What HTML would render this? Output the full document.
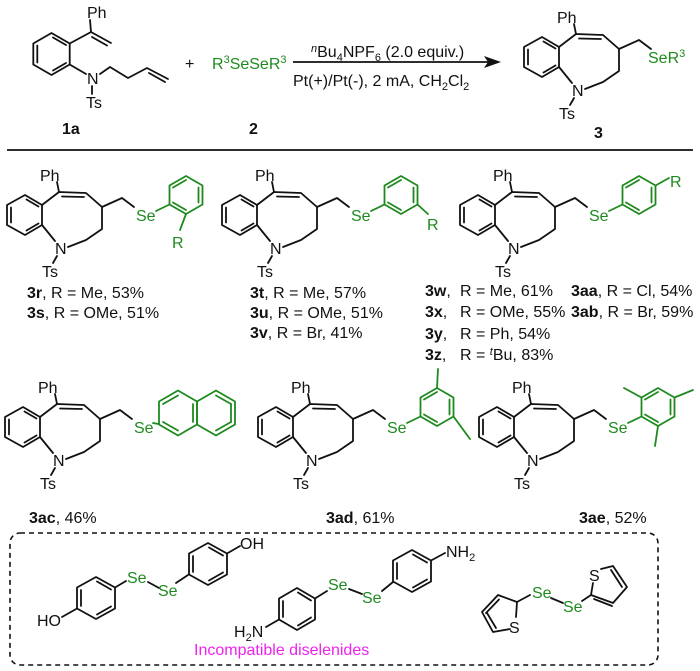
<!DOCTYPE html>
<html><head><meta charset="utf-8">
<style>
html,body{margin:0;padding:0;background:#fff;}
svg{display:block;font-family:"Liberation Sans",Arial,sans-serif;}
.b{stroke:#111;stroke-width:1.8;fill:none;stroke-linecap:round;stroke-linejoin:round;}
.g{stroke:#1e8a1e;stroke-width:1.8;fill:none;stroke-linecap:round;stroke-linejoin:round;}
text{font-size:16px;fill:#111;}
.gt{fill:#1e8a1e;}
.bd{font-weight:bold;}
</style></head>
<body>
<svg width="700" height="671" viewBox="0 0 700 671" xmlns="http://www.w3.org/2000/svg">
<defs>
<g id="sc">
  <polygon class="b" points="7,205 25,195 42,205 42,225 25,235 7,225"/>
  <line class="b" x1="11" y1="207.5" x2="11" y2="222.5"/>
  <line class="b" x1="26.5" y1="199.5" x2="38.5" y2="206.5"/>
  <line class="b" x1="26.5" y1="230.5" x2="38.5" y2="223.5"/>
  <polyline class="b" points="42,205 59,192 86,193 102,207 102,229 86,240 68,247"/>
  <line class="b" x1="62" y1="196.5" x2="84" y2="197"/>
  <line class="b" x1="59" y1="192" x2="57" y2="182"/>
  <line class="b" x1="42" y1="225" x2="55" y2="241"/>
  <line class="b" x1="57" y1="256" x2="53" y2="263"/>
  <polyline class="b" points="102,207 122,198 134,207"/>
</g>
<g id="ar">
  <polygon class="g" points="186,176 202.5,185.5 202.5,204.5 186,214 169.5,204.5 169.5,185.5"/>
  <line class="g" x1="173" y1="187.5" x2="186" y2="180"/>
  <line class="g" x1="198.5" y1="187.5" x2="198.5" y2="202.5"/>
  <line class="g" x1="173" y1="202.5" x2="186" y2="210"/>
  <line class="g" x1="156" y1="211" x2="169.5" y2="204.5"/>
</g>
</defs>

<!-- Top scheme: 1a -->
<polygon class="b" points="51.5,33 69.7,43.5 69.7,64.5 51.5,75 33.3,64.5 33.3,43.5"/>
<line class="b" x1="37.3" y1="45.5" x2="37.3" y2="62.5"/>
<line class="b" x1="53" y1="37.5" x2="66" y2="45"/>
<line class="b" x1="53" y1="70.5" x2="66" y2="63"/>
<line class="b" x1="69.7" y1="43.5" x2="91" y2="32"/>
<line class="b" x1="91" y1="32" x2="90" y2="20"/>
<line class="b" x1="91" y1="32" x2="111" y2="43"/>
<line class="b" x1="92" y1="37" x2="107" y2="45.5"/>
<line class="b" x1="69.7" y1="64.5" x2="86" y2="74"/>
<polyline class="b" points="100,74 110,67 128,78 147,68 168,79"/>
<line class="b" x1="149" y1="73" x2="165" y2="82"/>
<line class="b" x1="92" y1="86" x2="92" y2="94"/>
<text x="87" y="18">Ph</text>
<text x="87" y="84">N</text>
<text x="86" y="108">Ts</text>
<text x="62" y="134" class="bd">1a</text>
<text x="185" y="69">+</text>
<text x="212" y="69" class="gt">R<tspan font-size="11" dy="-6">3</tspan><tspan dy="6">SeSeR</tspan><tspan font-size="11" dy="-6">3</tspan></text>
<text x="249" y="134" class="bd">2</text>
<line x1="293" y1="62" x2="490" y2="62" stroke="#111" stroke-width="1.8"/>
<polygon points="501,62 484,56 488,62 484,68" fill="#111"/>
<text x="311" y="57"><tspan font-size="11" font-style="italic" dy="-5">n</tspan><tspan dy="5">Bu</tspan><tspan font-size="11" dy="4">4</tspan><tspan dy="-4">NPF</tspan><tspan font-size="11" dy="4">6</tspan><tspan dy="-4"> (2.0 equiv.)</tspan></text>
<text x="293" y="86">Pt(+)/Pt(-), 2 mA, CH<tspan font-size="11" dy="4">2</tspan><tspan dy="-4">Cl</tspan><tspan font-size="11" dy="4">2</tspan></text>

<!-- product 3 -->
<g transform="translate(517,-158)">
  <use href="#sc"/>
  <text x="40" y="181">Ph</text>
  <text x="55" y="254">N</text>
  <text x="42" y="277">Ts</text>
  <text x="131" y="221" class="gt">SeR<tspan font-size="11" dy="-6">3</tspan></text>
</g>
<text x="594" y="138" class="bd">3</text>
<line x1="7" y1="150" x2="693" y2="150" stroke="#111" stroke-width="1.8"/>

<!-- 3r -->
<g>
  <use href="#sc"/><use href="#ar"/>
  <line class="g" x1="186" y1="214" x2="180" y2="230"/>
  <text x="40" y="181">Ph</text><text x="55" y="254">N</text><text x="42" y="277">Ts</text>
  <text x="136" y="221" class="gt">Se</text>
  <text x="172" y="248" class="gt">R</text>
</g>
<!-- 3t -->
<g transform="translate(215,0)">
  <use href="#sc"/><use href="#ar"/>
  <line class="g" x1="202.5" y1="204.5" x2="213" y2="214"/>
  <text x="40" y="181">Ph</text><text x="55" y="254">N</text><text x="42" y="277">Ts</text>
  <text x="136" y="221" class="gt">Se</text>
  <text x="212" y="230" class="gt">R</text>
</g>
<!-- 3w -->
<g transform="translate(453,0)">
  <use href="#sc"/><use href="#ar"/>
  <line class="g" x1="202.5" y1="185.5" x2="216" y2="178"/>
  <text x="40" y="181">Ph</text><text x="55" y="254">N</text><text x="42" y="277">Ts</text>
  <text x="136" y="221" class="gt">Se</text>
  <text x="217" y="187" class="gt">R</text>
</g>

<text x="27" y="298"><tspan class="bd">3r</tspan>,  R = Me, 53%</text>
<text x="27" y="318"><tspan class="bd">3s</tspan>, R = OMe, 51%</text>
<text x="250" y="298"><tspan class="bd">3t</tspan>,  R = Me, 57%</text>
<text x="250" y="318"><tspan class="bd">3u</tspan>, R = OMe, 51%</text>
<text x="250" y="338"><tspan class="bd">3v</tspan>, R = Br,  41%</text>
<text x="425" y="296" class="bd">3w<tspan font-weight="normal">,</tspan></text>
<text x="425" y="317" class="bd">3x<tspan font-weight="normal">,</tspan></text>
<text x="425" y="339" class="bd">3y<tspan font-weight="normal">,</tspan></text>
<text x="425" y="360" class="bd">3z<tspan font-weight="normal">,</tspan></text>
<text x="460" y="296">R = Me, 61%</text>
<text x="460" y="317">R = OMe, 55%</text>
<text x="460" y="339">R = Ph, 54%</text>
<text x="460" y="360">R = <tspan font-size="11" font-style="italic" dy="-5">t</tspan><tspan dy="5">Bu, 83%</tspan></text>
<text x="571" y="296"><tspan class="bd">3aa</tspan>, R = Cl, 54%</text>
<text x="571" y="317"><tspan class="bd">3ab</tspan>, R = Br, 59%</text>

<!-- 3ac -->
<g transform="translate(-2,212)">
  <use href="#sc"/>
  <line class="g" x1="155" y1="211" x2="160.5" y2="212"/>
  <text x="40" y="181">Ph</text><text x="55" y="254">N</text><text x="42" y="277">Ts</text>
  <text x="136" y="221" class="gt">Se</text>
</g>
<g>
  <polygon class="g" points="178,390.5 197,401.5 197,424.5 178,435.5 159,424.5 159,401.5"/>
  <polygon class="g" points="216,390.5 235,401.5 235,424.5 216,435.5 197,424.5 197,401.5"/>
  <line class="g" x1="163" y1="404" x2="178" y2="395.5"/>
  <line class="g" x1="163" y1="422" x2="178" y2="430.5"/>
  <line class="g" x1="193" y1="404" x2="193" y2="422"/>
  <line class="g" x1="216" y1="395.5" x2="231" y2="404"/>
  <line class="g" x1="216" y1="430.5" x2="231" y2="422"/>
  <line class="g" x1="231" y1="404" x2="231" y2="422"/>
</g>
<!-- 3ad -->
<g transform="translate(251,212)">
  <use href="#sc"/><use href="#ar"/>
  <line class="g" x1="186" y1="176" x2="187" y2="157"/>
  <line class="g" x1="202.5" y1="204.5" x2="219" y2="227"/>
  <text x="40" y="181">Ph</text><text x="55" y="254">N</text><text x="42" y="277">Ts</text>
  <text x="136" y="221" class="gt">Se</text>
</g>
<!-- 3ae -->
<g transform="translate(472,212)">
  <use href="#sc"/><use href="#ar"/>
  <line class="g" x1="169.5" y1="185.5" x2="152" y2="176"/>
  <line class="g" x1="202.5" y1="185.5" x2="221" y2="178"/>
  <line class="g" x1="186" y1="214" x2="183" y2="234"/>
  <text x="40" y="181">Ph</text><text x="55" y="254">N</text><text x="42" y="277">Ts</text>
  <text x="136" y="221" class="gt">Se</text>
</g>
<text x="29" y="523"><tspan class="bd">3ac</tspan>, 46%</text>
<text x="326" y="523"><tspan class="bd">3ad</tspan>, 61%</text>
<text x="579" y="523"><tspan class="bd">3ae</tspan>, 52%</text>

<!-- dashed box -->
<rect x="10" y="533" width="648" height="132" rx="10" ry="10" fill="none" stroke="#111" stroke-width="1.6" stroke-dasharray="5,4"/>

<!-- HO diselenide -->
<polygon class="b" points="96,577 115,587.5 115,608.5 96,619 77,608.5 77,587.5"/>
<line class="b" x1="81" y1="590" x2="81" y2="606"/>
<line class="b" x1="97" y1="581.5" x2="111" y2="589.5"/>
<line class="b" x1="97" y1="614.5" x2="111" y2="606.5"/>
<line class="b" x1="77" y1="608.5" x2="62" y2="617"/>
<line class="b" x1="115" y1="587.5" x2="126" y2="581"/>
<line class="b" x1="148" y1="582" x2="159" y2="588"/>
<line class="b" x1="176" y1="583" x2="188" y2="575"/>
<polygon class="b" points="208,543 227,553.5 227,574.5 208,585 189,574.5 189,553.5"/>
<line class="b" x1="193" y1="556" x2="193" y2="572"/>
<line class="b" x1="209" y1="547.5" x2="223" y2="555.5"/>
<line class="b" x1="209" y1="580.5" x2="223" y2="572.5"/>
<line class="b" x1="227" y1="553.5" x2="240" y2="546"/>
<text x="37" y="626">HO</text>
<text x="127" y="583" class="gt">Se</text>
<text x="158" y="596" class="gt">Se</text>
<text x="240" y="549">OH</text>

<!-- H2N diselenide -->
<polygon class="b" points="297,588 315,598.5 315,619.5 297,630 279,619.5 279,598.5"/>
<line class="b" x1="283" y1="601" x2="283" y2="617"/>
<line class="b" x1="298" y1="592.5" x2="311" y2="600.5"/>
<line class="b" x1="298" y1="625.5" x2="311" y2="617.5"/>
<line class="b" x1="279" y1="619.5" x2="266" y2="627"/>
<line class="b" x1="315" y1="598.5" x2="327" y2="591"/>
<line class="b" x1="349" y1="589" x2="362" y2="594"/>
<line class="b" x1="382" y1="591" x2="393" y2="582"/>
<polygon class="b" points="412,550 431,560.5 431,581.5 412,592 393,581.5 393,560.5"/>
<line class="b" x1="397" y1="563" x2="397" y2="579"/>
<line class="b" x1="413" y1="554.5" x2="427" y2="562.5"/>
<line class="b" x1="413" y1="587.5" x2="427" y2="579.5"/>
<line class="b" x1="431" y1="560.5" x2="445" y2="553"/>
<text x="234" y="637">H<tspan font-size="11" dy="4">2</tspan><tspan dy="-4">N</tspan></text>
<text x="328" y="590" class="gt">Se</text>
<text x="362" y="603" class="gt">Se</text>
<text x="446" y="557">NH<tspan font-size="11" dy="4">2</tspan></text>

<!-- thiophene diselenide -->
<polyline class="b" points="510,629 493,632 482,612 498,595 517,602 530,595"/>
<line class="b" x1="486" y1="613" x2="499" y2="599.5"/>
<line class="b" x1="487" y1="613" x2="496" y2="628"/>
<line class="b" x1="517" y1="602" x2="516" y2="617"/>
<text x="509" y="633">S</text>
<text x="532" y="598" class="gt">Se</text>
<line class="b" x1="551" y1="598" x2="563" y2="603"/>
<text x="563" y="612" class="gt">Se</text>
<polyline class="b" points="582,601 591,595 613,603 627,587 613,566 601,569"/>
<line class="b" x1="594" y1="599" x2="612" y2="606"/>
<line class="b" x1="622" y1="587" x2="611" y2="570"/>
<line class="b" x1="591" y1="595" x2="593" y2="583"/>
<text x="589" y="581">S</text>

<text x="194" y="655" style="fill:#ee22ee;font-size:16px">Incompatible diselenides</text>
</svg>
</body></html>
